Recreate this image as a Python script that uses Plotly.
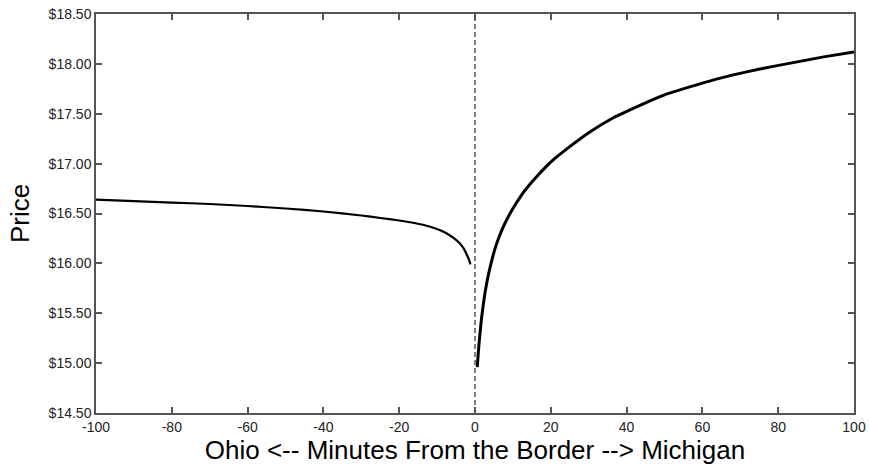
import plotly.graph_objects as go

# Left branch (Ohio side): minutes from border (negative) and price
ohio_x = [-100, -90, -80, -70, -60, -50, -40, -30, -25, -20, -16, -12, -9, -7, -5.5, -4, -3, -2.2, -1.6, -1.2]
ohio_y = [16.64, 16.625, 16.61, 16.595, 16.575, 16.55, 16.52, 16.48, 16.455, 16.43, 16.405, 16.37, 16.33, 16.29, 16.25, 16.2, 16.15, 16.09, 16.04, 15.99]

# Right branch (Michigan side)
mich_x = [0.6, 0.9, 1.3, 1.7, 2.2, 2.8, 3.5, 4.3, 5.3, 6.5, 8, 10, 12, 14, 16.3, 18.5, 20.7, 25, 30, 36.5, 45, 50, 58.5, 65, 71.7, 78, 85, 92, 100]
mich_y = [14.96, 15.12, 15.29, 15.44, 15.59, 15.74, 15.88, 16.01, 16.15, 16.28, 16.41, 16.55, 16.67, 16.77, 16.87, 16.96, 17.04, 17.17, 17.31, 17.46, 17.61, 17.69, 17.79, 17.86, 17.92, 17.97, 18.02, 18.07, 18.12]

border_x = [0, 0]
border_y = [14.5, 18.5]

x_ticks = [-100, -80, -60, -40, -20, 0, 20, 40, 60, 80, 100]
x_tick_labels = [str(v) for v in x_ticks]
y_ticks = [14.5, 15.0, 15.5, 16.0, 16.5, 17.0, 17.5, 18.0, 18.5]
y_tick_labels = ["$%.2f" % v for v in y_ticks]

FONT = "Liberation Sans, Arial, sans-serif"

fig = go.Figure()
fig.add_trace(go.Scatter(x=border_x, y=border_y, mode="lines",
                         line=dict(color="black", width=1, dash="5px,3px"),
                         hoverinfo="skip"))
fig.add_trace(go.Scatter(x=ohio_x, y=ohio_y, mode="lines",
                         line=dict(color="black", width=2.2, shape="spline", smoothing=0.5)))
fig.add_trace(go.Scatter(x=mich_x, y=mich_y, mode="lines",
                         line=dict(color="black", width=3, shape="spline", smoothing=0.5)))

axis_common = dict(
    showline=True, linecolor="#555555", linewidth=1.5, mirror="ticks",
    ticks="inside", ticklen=6, tickcolor="#555555", tickwidth=1.5,
    showgrid=False, zeroline=False, automargin=False,
    tickfont=dict(family=FONT, size=14, color="#222222"),
)

fig.update_layout(
    width=870, height=467,
    margin=dict(l=96, r=16, t=14, b=54),
    paper_bgcolor="white", plot_bgcolor="white",
    showlegend=False,
    xaxis=dict(range=[-100, 100], tickvals=x_ticks, ticktext=x_tick_labels,
               title=dict(text="Ohio <-- Minutes From the Border --> Michigan",
                          font=dict(family=FONT, size=26, color="black"),
                          standoff=0),
               **axis_common),
    yaxis=dict(range=[14.5, 18.5], tickvals=y_ticks, ticktext=y_tick_labels,
               title=dict(text="Price",
                          font=dict(family=FONT, size=26, color="black"),
                          standoff=12),
               **axis_common),
)

fig.write_html("out.html")
